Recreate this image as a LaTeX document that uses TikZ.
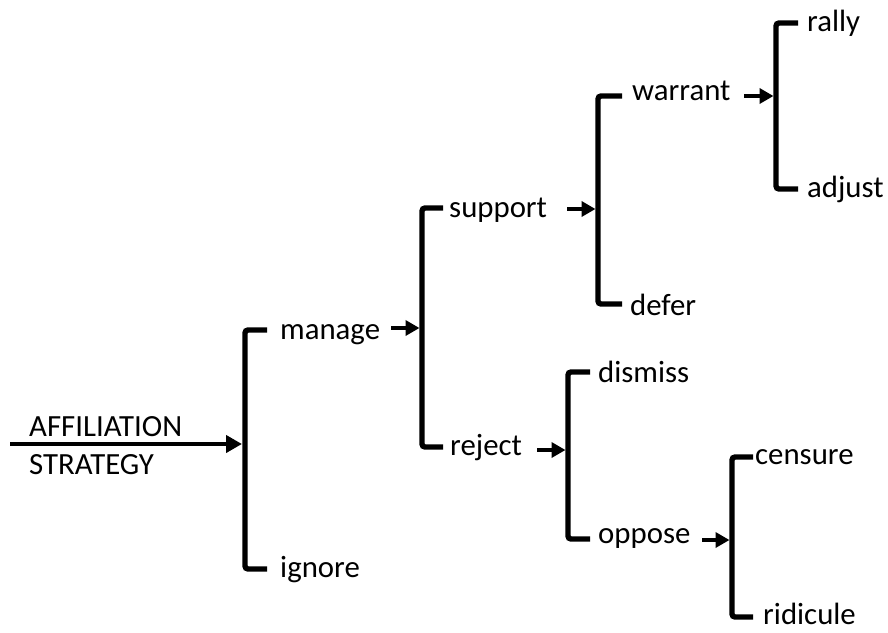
\documentclass[tikz,border=0pt]{standalone}
\usepackage{fontspec}
\setmainfont{Carlito}
\usetikzlibrary{arrows.meta}
\begin{document}
\begin{tikzpicture}[x=1pt,y=-1pt,
  lbl/.style={anchor=base west,inner sep=0pt,font=\fontsize{30.8}{36}\selectfont},
  brk/.style={line width=5.4pt,rounded corners=3pt,line cap=butt},
  arr/.style={line width=4.6pt,-{Triangle[length=14pt,width=15pt]}},
  bigarr/.style={line width=4.8pt,-{Triangle[length=16pt,width=17pt]}}]
\useasboundingbox (0,0) rectangle (888,632);
% labels
\node[lbl] (aff) at (29,436) {AFFILIATION};
\node[lbl] (strat) at (29,474) {STRATEGY};
\node[lbl] (manage) at (280,339) {manage};
\node[lbl] (ignore) at (280,577) {ignore};
\node[lbl] (support) at (449,217) {support};
\node[lbl] (reject) at (450,455) {reject};
\node[lbl] (warrant) at (632,100) {warrant};
\node[lbl] (defer) at (630,315) {defer};
\node[lbl] (rally) at (807,31) {rally};
\node[lbl] (adjust) at (807,197) {adjust};
\node[lbl] (dismiss) at (598,382) {dismiss};
\node[lbl] (oppose) at (598,543) {oppose};
\node[lbl] (censure) at (755,464) {censure};
\node[lbl] (ridicule) at (763,624) {ridicule};
% bracket coordinates
\coordinate (b1ta) at (267,330); \coordinate (b1t) at (245,330);
\coordinate (b1b) at (245,569); \coordinate (b1ba) at (267,569);
\coordinate (b1m) at (242,444); \coordinate (s0) at (10,444);
\coordinate (b2ta) at (443,208); \coordinate (b2t) at (422,208);
\coordinate (b2b) at (422,447); \coordinate (b2ba) at (443,447);
\coordinate (b2m) at (419.5,328); \coordinate (s1) at (391,328);
\coordinate (b3ta) at (622,96); \coordinate (b3t) at (598,96);
\coordinate (b3b) at (598,304); \coordinate (b3ba) at (622,304);
\coordinate (b3m) at (595.5,209); \coordinate (s2) at (567,209);
\coordinate (b4ta) at (798,23); \coordinate (b4t) at (776,23);
\coordinate (b4b) at (776,189); \coordinate (b4ba) at (798,189);
\coordinate (b4m) at (773.5,96); \coordinate (s3) at (744,96);
\coordinate (b5ta) at (590,372); \coordinate (b5t) at (568,372);
\coordinate (b5b) at (568,539); \coordinate (b5ba) at (590,539);
\coordinate (b5m) at (565.5,450); \coordinate (s4) at (537,450);
\coordinate (b6ta) at (753,457); \coordinate (b6t) at (732,457);
\coordinate (b6b) at (732,617); \coordinate (b6ba) at (753,617);
\coordinate (b6m) at (729.5,540); \coordinate (s5) at (702,540);
% brackets
\draw[brk] (b1ta) -- (b1t) -- (b1b) -- (b1ba);
\draw[brk] (b2ta) -- (b2t) -- (b2b) -- (b2ba);
\draw[brk] (b3ta) -- (b3t) -- (b3b) -- (b3ba);
\draw[brk] (b4ta) -- (b4t) -- (b4b) -- (b4ba);
\draw[brk] (b5ta) -- (b5t) -- (b5b) -- (b5ba);
\draw[brk] (b6ta) -- (b6t) -- (b6b) -- (b6ba);
% arrows
\draw[bigarr] (s0) -- (b1m);
\draw[arr] (s1) -- (b2m);
\draw[arr] (s2) -- (b3m);
\draw[arr] (s3) -- (b4m);
\draw[arr] (s4) -- (b5m);
\draw[arr] (s5) -- (b6m);
\end{tikzpicture}
\end{document}
